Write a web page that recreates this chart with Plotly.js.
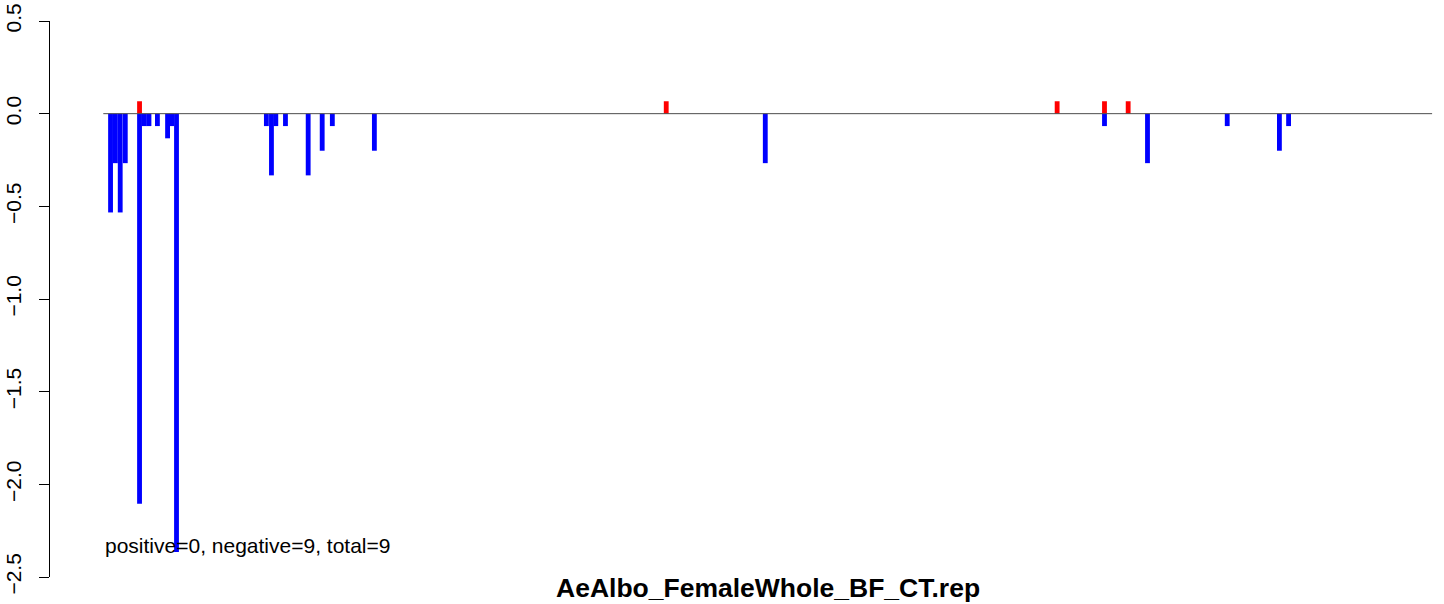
<!DOCTYPE html>
<html>
<head>
<meta charset="utf-8">
<script src="https://cdn.plot.ly/plotly-3.0.1.min.js"></script>
<style>html,body{margin:0;padding:0;background:#fff;}#chart{width:1444px;height:604px;}</style>
</head>
<body>
<div id="chart"></div>
<script>
// Positions (bar centres, in sequence units) and values
const nTotal = 275;
const negPos = [1.5, 2.5, 3.5, 4.55, 7.5, 8.5, 9.45, 11.2, 13.3, 14.2, 15.15, 33.75, 34.8, 35.7, 37.7, 42.4, 45.3, 47.4, 56.1, 137.0, 207.2, 216.1, 232.6, 243.4, 245.3];
const negVal = [-0.533, -0.267, -0.533, -0.267, -2.105, -0.067, -0.067, -0.067, -0.133, -0.067, -2.365, -0.067, -0.333, -0.067, -0.067, -0.333, -0.2, -0.067, -0.2, -0.267, -0.067, -0.267, -0.067, -0.2, -0.067];
const posPos = [7.5, 116.5, 197.4, 207.2, 212.1];
const posVal = [0.067, 0.067, 0.067, 0.067, 0.067];
const yTicks = [0.5, 0.0, -0.5, -1.0, -1.5, -2.0, -2.5];
const yTickText = ['0.5', '0.0', '\u22120.5', '\u22121.0', '\u22121.5', '\u22122.0', '\u22122.5'];
const titleText = 'AeAlbo_FemaleWhole_BF_CT.rep';
const countText = 'positive=0, negative=9, total=9';

const pxPerUnit = 4.832;
const plotLeft = 50, zeroPx = 103.3, pageW = 1444;
const xRange = [(plotLeft - zeroPx) / pxPerUnit, (pageW - zeroPx) / pxPerUnit];

const font = 'Liberation Sans, Arial, Helvetica, sans-serif';

const traces = [
  {type: 'bar', x: negPos, y: negVal, width: 1, marker: {color: '#0000ff', line: {width: 0}}, hoverinfo: 'x+y'},
  {type: 'bar', x: posPos, y: posVal, width: 1, marker: {color: '#ff0000', line: {width: 0}}, hoverinfo: 'x+y'},
  {type: 'scatter', mode: 'lines', x: [0, nTotal], y: [0, 0], line: {color: '#4d4d4d', width: 1}, hoverinfo: 'skip'}
];

const layout = {
  width: 1444, height: 604,
  margin: {l: plotLeft, r: 0, t: 21, b: 27, pad: 0},
  paper_bgcolor: '#ffffff', plot_bgcolor: '#ffffff',
  showlegend: false,
  barmode: 'overlay',
  font: {family: font, size: 21, color: '#000'},
  xaxis: {range: xRange, visible: false, showgrid: false, zeroline: false, fixedrange: true},
  yaxis: {
    range: [-2.5, 0.5], tickvals: yTicks, ticktext: yTickText,
    showgrid: false, zeroline: false, showline: true, linecolor: '#000', linewidth: 1,
    ticks: 'outside', ticklen: 10, tickcolor: '#000', tickwidth: 1,
    tickangle: -90, tickfont: {family: font, size: 21, color: '#000'},
    ticklabelstandoff: 10
  },
  annotations: [
    {xref: 'x', yref: 'y', x: 0, y: -2.33, text: countText, showarrow: false,
     xanchor: 'left', yanchor: 'middle', font: {family: font, size: 21, color: '#000'}},
    {xref: 'x', yref: 'paper', x: nTotal / 2, y: 0, yshift: -11, text: '<b>' + titleText + '</b>', showarrow: false,
     xanchor: 'center', yanchor: 'middle', font: {family: font, size: 26.5, color: '#000'}}
  ]
};

Plotly.newPlot('chart', traces, layout, {displayModeBar: false, staticPlot: true});
</script>
</body>
</html>
